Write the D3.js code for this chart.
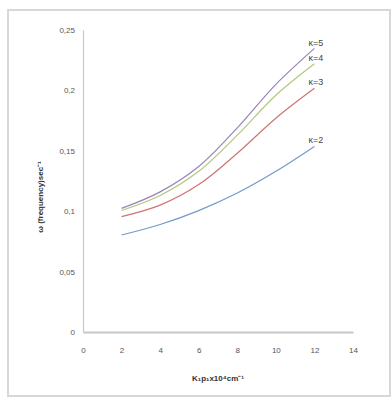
<!DOCTYPE html>
<html lang="en">
<head>
    <meta charset="UTF-8">
    <title>Frequency vs K1p1</title>
    <script src="https://d3js.org/d3.v7.min.js"></script>
    <style>
        body {
            margin: 0;
            background-color: #fff;
        }
        #chart text {
            font-family: 'Liberation Sans Narrow', 'Liberation Sans', Arial, sans-serif;
        }
    </style>
</head>
<body>
    <svg id="chart" width="392" height="401"></svg>

    <script>
        // x values (K1 p1 x 10^4 cm^-1)
        const xValues = [2, 4, 6, 8, 10, 12];
        // omega (frequency) for each kappa
        const kappa2 = [0.0803, 0.0890, 0.1005, 0.1150, 0.1330, 0.1536];
        const kappa3 = [0.0955, 0.1050, 0.1220, 0.1480, 0.1770, 0.2017];
        const kappa4 = [0.1006, 0.1130, 0.1330, 0.1630, 0.1960, 0.2220];
        const kappa5 = [0.1023, 0.1160, 0.1370, 0.1690, 0.2050, 0.2348];
        const seriesNames = ["κ=2", "κ=3", "κ=4", "κ=5"];
        const seriesColors = ["#4f81bd", "#c0504d", "#9bbb59", "#8064a2"];
        const xTicks = [0, 2, 4, 6, 8, 10, 12, 14];
        const yTicks = [0, 0.05, 0.1, 0.15, 0.2, 0.25];
        const yTickLabels = ["0", "0,05", "0,1", "0,15", "0,2", "0,25"];

        const svg = d3.select("#chart");

        // outer chart frame
        svg.append("rect")
            .attr("x", 8).attr("y", 10)
            .attr("width", 382).attr("height", 386)
            .attr("fill", "none")
            .attr("stroke", "#d4dad6")
            .attr("stroke-width", 2);

        const x = d3.scaleLinear().domain([0, 14]).range([83, 353]);
        const y = d3.scaleLinear().domain([0, 0.25]).range([332, 30]);

        // axes
        const xAxis = svg.append("g")
            .attr("transform", `translate(0,${y(0)})`)
            .call(d3.axisBottom(x).tickValues(xTicks).tickSize(0).tickPadding(15));
        xAxis.select(".domain").attr("stroke", "#c8c8c8").attr("stroke-width", 2);
        xAxis.selectAll("text").attr("fill", "#555").attr("font-size", 8);

        const yAxis = svg.append("g")
            .attr("transform", `translate(${x(0)},0)`)
            .call(d3.axisLeft(y).tickValues(yTicks).tickSize(0).tickPadding(8)
                .tickFormat((d, i) => yTickLabels[i]));
        yAxis.select(".domain").attr("stroke", "#c8c8c8").attr("stroke-width", 1.2);
        yAxis.selectAll("text").attr("fill", "#555").attr("font-size", 8);

        // curves
        const allSeries = [kappa2, kappa3, kappa4, kappa5];
        const line = d3.line()
            .x((d, i) => x(xValues[i]))
            .y(d => y(d))
            .curve(d3.curveCatmullRom.alpha(0.5));

        allSeries.forEach((vals, k) => {
            svg.append("path")
                .datum(vals)
                .attr("d", line)
                .attr("fill", "none")
                .attr("stroke", seriesColors[k])
                .attr("stroke-width", 1.2)
                .attr("stroke-opacity", 0.8);
        });

        // series labels at line ends
        const labelOffsets = [-3, -3, -3, -2];
        allSeries.forEach((vals, k) => {
            const last = vals[vals.length - 1];
            svg.append("text")
                .attr("x", x(12) - 6)
                .attr("y", y(last) + labelOffsets[k])
                .attr("font-size", 9)
                .attr("fill", "#444")
                .text(seriesNames[k]);
        });

        // axis titles
        svg.append("text")
            .attr("x", 218).attr("y", 381)
            .attr("text-anchor", "middle")
            .attr("font-size", 8)
            .attr("font-weight", "bold")
            .attr("fill", "#333")
            .text("K₁p₁x10⁴cm⁻¹");

        svg.append("text")
            .attr("transform", "translate(43,197) rotate(-90)")
            .attr("text-anchor", "middle")
            .attr("font-size", 8)
            .attr("font-weight", "bold")
            .attr("fill", "#333")
            .text("ω (frequency)sec⁻¹");
    </script>
</body>
</html>
